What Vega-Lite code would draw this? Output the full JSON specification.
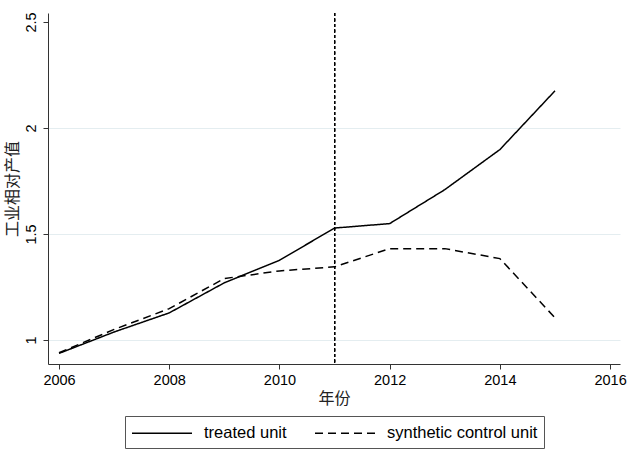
{
  "$schema": "https://vega.github.io/schema/vega-lite/v6.json",
  "width": 572,
  "height": 351,
  "autosize": {"type": "none"},
  "padding": {"left": 48, "top": 13, "right": 8, "bottom": 85},
  "background": "white",
  "config": {
    "view": {"stroke": null},
    "font": "Liberation Sans",
    "axis": {"labelFont": "Liberation Sans", "labelFontSize": 14.5, "labelColor": "#000", "domainColor": "#333", "tickColor": "#333", "tickSize": 5, "titleFont": "Noto Sans CJK SC", "titleFontSize": 16, "titleFontWeight": "normal", "titleColor": "#222"}
  },
  "data": {"values": [
    {"year": 2006, "value": 0.937, "series": "treated unit"},
    {"year": 2007, "value": 1.038, "series": "treated unit"},
    {"year": 2008, "value": 1.128, "series": "treated unit"},
    {"year": 2009, "value": 1.27, "series": "treated unit"},
    {"year": 2010, "value": 1.376, "series": "treated unit"},
    {"year": 2011, "value": 1.528, "series": "treated unit"},
    {"year": 2012, "value": 1.549, "series": "treated unit"},
    {"year": 2013, "value": 1.709, "series": "treated unit"},
    {"year": 2014, "value": 1.898, "series": "treated unit"},
    {"year": 2015, "value": 2.175, "series": "treated unit"},
    {"year": 2006, "value": 0.94, "series": "synthetic control unit"},
    {"year": 2007, "value": 1.05, "series": "synthetic control unit"},
    {"year": 2008, "value": 1.148, "series": "synthetic control unit"},
    {"year": 2009, "value": 1.29, "series": "synthetic control unit"},
    {"year": 2010, "value": 1.326, "series": "synthetic control unit"},
    {"year": 2011, "value": 1.345, "series": "synthetic control unit"},
    {"year": 2012, "value": 1.431, "series": "synthetic control unit"},
    {"year": 2013, "value": 1.431, "series": "synthetic control unit"},
    {"year": 2014, "value": 1.384, "series": "synthetic control unit"},
    {"year": 2015, "value": 1.105, "series": "synthetic control unit"}
  ]},
  "layer": [
    {
      "mark": {"type": "line", "color": "#000", "strokeWidth": 1.5},
      "encoding": {
        "x": {"field": "year", "type": "quantitative",
          "scale": {"domain": [2005.8, 2016.18], "nice": false, "zero": false},
          "axis": {"values": [2006, 2008, 2010, 2012, 2014, 2016], "format": "d", "grid": false, "title": "年份", "labelPadding": 4, "titlePadding": 4}},
        "y": {"field": "value", "type": "quantitative",
          "scale": {"domain": [0.887, 2.542], "nice": false, "zero": false},
          "axis": {"values": [1, 1.5, 2, 2.5], "format": "~g", "grid": true,
            "gridColor": {"condition": {"test": "datum.value == 2.5", "value": "transparent"}, "value": "#e4edf0"},
            "labelAngle": -90, "labelAlign": "center", "labelBaseline": "bottom", "labelPadding": 5,
            "title": "工业相对产值", "titleFontSize": 16, "titlePadding": 3}},
        "strokeDash": {"field": "series", "type": "nominal",
          "scale": {"domain": ["treated unit", "synthetic control unit"], "range": [[1, 0], [8, 5]]},
          "legend": {"title": null, "orient": "none", "legendX": 77, "legendY": 403, "direction": "horizontal", "symbolType": "M-3,0H3", "symbolSize": 400, "symbolOffset": 20, "symbolStrokeWidth": 1.5, "symbolStrokeColor": "#000", "labelFontSize": 16.5, "labelFont": "Liberation Sans", "labelColor": "#000", "strokeColor": "#555", "padding": 6, "columnPadding": 25, "labelOffset": 31}}
      }
    },
    {
      "mark": {"type": "rule", "color": "#000", "strokeWidth": 1, "strokeDash": [3, 2.5]},
      "encoding": {"x": {"datum": 2011, "type": "quantitative"}}
    }
  ]
}
